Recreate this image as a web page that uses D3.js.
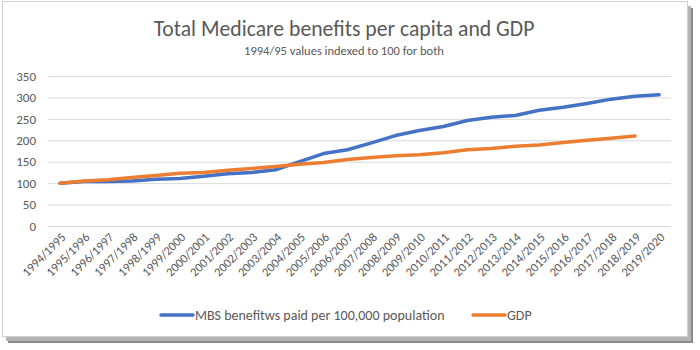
<!DOCTYPE html>
<html>
<head>
<meta charset="utf-8">
<script src="https://cdn.jsdelivr.net/npm/d3@7"></script>
<style>
  body { margin: 0; background: #fff; }
  svg text { font-family: Carlito, Calibri, "Open Sans", sans-serif; fill: #595959; }
</style>
</head>
<body>
<svg id="chart" width="700" height="350"></svg>
<script>
const years = [
  '1994/1995', '1995/1996', '1996/1997', '1997/1998', '1998/1999', '1999/2000',
  '2000/2001', '2001/2002', '2002/2003', '2003/2004', '2004/2005', '2005/2006',
  '2006/2007', '2007/2008', '2008/2009', '2009/2010', '2010/2011', '2011/2012',
  '2012/2013', '2013/2014', '2014/2015', '2015/2016', '2016/2017', '2017/2018',
  '2018/2019', '2019/2020'
];
const mbs = [100, 104, 104, 105, 109, 111, 116, 122, 125, 131, 150, 169, 178,
  194, 211, 223, 232, 246, 254, 258, 270, 277, 286, 296, 303, 306];
const gdp = [100, 105, 108, 113, 118, 123, 125, 130, 134, 139, 144, 148, 155,
  160, 164, 166, 171, 178, 181, 186, 189, 195, 200, 205, 210];
const yTicks = [0, 50, 100, 150, 200, 250, 300, 350];
const seriesNames = ['MBS benefitws paid per 100,000 population', 'GDP'];
const colors = ['#4472c4', '#ed7d31'];

const svg = d3.select('svg#chart');
const margin = { top: 76, right: 29, bottom: 124, left: 48 };
const width = 700 - margin.left - margin.right;
const height = 350 - margin.top - margin.bottom;

// frame with drop shadow, like the pasted Excel chart
svg.append('rect').attr('x', 8).attr('y', 8).attr('width', 685).attr('height', 335)
    .attr('fill', '#8a8a8a');
svg.append('rect').attr('x', 6).attr('y', 6).attr('width', 685).attr('height', 335)
    .attr('fill', '#b5b5b5');
svg.append('rect').attr('x', 2.5).attr('y', 1.5).attr('width', 685).attr('height', 335)
    .attr('fill', '#fff').attr('stroke', '#d0d0d0');

svg.append('text').attr('x', 344).attr('y', 36).attr('text-anchor', 'middle')
    .style('font-size', '21.7px').text('Total Medicare benefits per capita and GDP');
svg.append('text').attr('x', 344).attr('y', 55).attr('text-anchor', 'middle')
    .style('font-size', '12.5px').text('1994/95 values indexed to 100 for both');

const g = svg.append('g').attr('transform', `translate(${margin.left},${margin.top})`);

const xScale = d3.scalePoint().domain(years).range([0, width]).padding(0.5);
const yScale = d3.scaleLinear().domain([0, 350]).range([height, 0]);

// gridlines + y labels
const yAxis = g.append('g')
    .call(d3.axisLeft(yScale).tickValues(yTicks).tickSize(-width).tickPadding(12));
yAxis.select('.domain').remove();
yAxis.selectAll('.tick line').attr('stroke', '#d9d9d9').attr('stroke-width', 1);
yAxis.selectAll('.tick text').style('font-size', '13px');

// x labels
const xAxis = g.append('g')
    .attr('transform', `translate(0,${height})`)
    .call(d3.axisBottom(xScale).tickSize(0).tickPadding(0));
xAxis.select('.domain').remove();
xAxis.selectAll('.tick text')
    .style('font-size', '12.5px')
    .attr('text-anchor', 'end')
    .attr('dy', 0)
    .attr('transform', 'translate(6,12) rotate(-45)');

const line = d3.line()
    .x((d, i) => xScale(years[i]))
    .y(d => yScale(d));

[mbs, gdp].forEach((vals, k) => {
  g.append('path')
      .datum(vals)
      .attr('fill', 'none')
      .attr('stroke', colors[k])
      .attr('stroke-width', 3.5)
      .attr('stroke-linejoin', 'round')
      .attr('stroke-linecap', 'round')
      .attr('d', line);
});

// legend
const legendItems = [{ x: 161 }, { x: 473 }];
legendItems.forEach((it, k) => {
  const lg = svg.append('g').attr('transform', `translate(${it.x},315)`);
  lg.append('line').attr('x1', 0).attr('x2', 32).attr('y1', 0).attr('y2', 0)
      .attr('stroke', colors[k]).attr('stroke-width', 3.5).attr('stroke-linecap', 'round');
  lg.append('text').attr('x', 34).attr('y', 5).style('font-size', '14px').text(seriesNames[k]);
});
</script>
</body>
</html>
